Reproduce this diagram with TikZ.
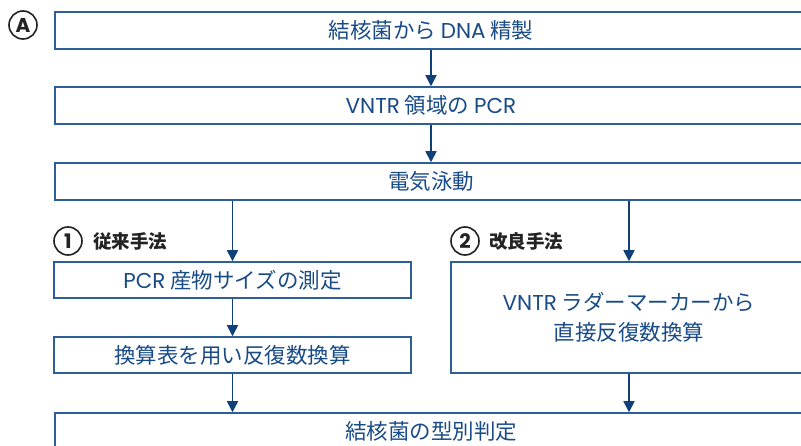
\documentclass[tikz,border=0pt]{standalone}
\usepackage{fontspec}
\setmainfont{Noto Sans CJK JP}
\newfontfamily\lat{Poppins}
\usetikzlibrary{arrows.meta}
\definecolor{boxline}{RGB}{45,95,150}
\definecolor{boxtext}{RGB}{25,75,135}
\definecolor{arrcol}{RGB}{15,65,120}
\definecolor{labtext}{RGB}{35,35,35}
\tikzset{
  box/.style={draw=boxline, line width=1.5pt, fill=white, text=boxtext, font=\fontsize{21.5}{26}\selectfont, inner sep=0pt, align=center},
  arr/.style={draw=arrcol, line width=1.6pt, -{Triangle[width=11pt,length=11pt]}},
  circ/.style={draw=labtext, line width=1.6pt, circle, minimum size=28pt, inner sep=0pt, text=labtext, font=\fontsize{20}{20}\selectfont\bfseries},
  lab/.style={text=labtext, anchor=west, inner sep=0pt, font=\fontsize{18.5}{18.5}\selectfont\bfseries}
}
\begin{document}
\begin{tikzpicture}[x=1pt,y=-1pt]
\useasboundingbox (0,0) rectangle (801,446);
\clip (0,0) rectangle (801,446);
\fill[white] (0,0) rectangle (801,446);
\node[circ] (ca) at (23,25) {\lat A};
\node[box, minimum width=752pt, minimum height=37pt] (b1) at (431,30.5) {結核菌から {\lat DNA} 精製};
\node[box, minimum width=752pt, minimum height=37pt] (b2) at (431,105.5) {{\lat VNTR} 領域の {\lat PCR}};
\node[box, minimum width=752pt, minimum height=37pt] (b3) at (431,181.5) {電気泳動};
\node[box, minimum width=357pt, minimum height=36pt] (p1) at (232.5,280) {{\lat PCR} 産物サイズの測定};
\node[box, minimum width=357pt, minimum height=36pt] (p2) at (232.5,355) {換算表を用い反復数換算};
\node[box, minimum width=356pt, minimum height=111pt] (r1) at (629,317.5) {{\lat VNTR} ラダーマーカーから\\[4pt]直接反復数換算};
\node[box, minimum width=752pt, minimum height=37pt] (b4) at (431,431.5) {結核菌の型別判定};
\node[circ] (c1) at (68,241) {\lat 1};
\node[lab] (l1) at (93,241) {従来手法};
\node[circ] (c2) at (465,241) {\lat 2};
\node[lab] (l2) at (489,241) {改良手法};
\draw[arr] (b1.south) -- (b2.north);
\draw[arr] (b2.south) -- (b3.north);
\draw[arr] (b3.south -| p1.north) -- (p1.north);
\draw[arr] (b3.south -| r1.north) -- (r1.north);
\draw[arr] (p1.south) -- (p2.north);
\draw[arr] (p2.south) -- (b4.north -| p2.south);
\draw[arr] (r1.south) -- (b4.north -| r1.south);
\end{tikzpicture}
\end{document}
